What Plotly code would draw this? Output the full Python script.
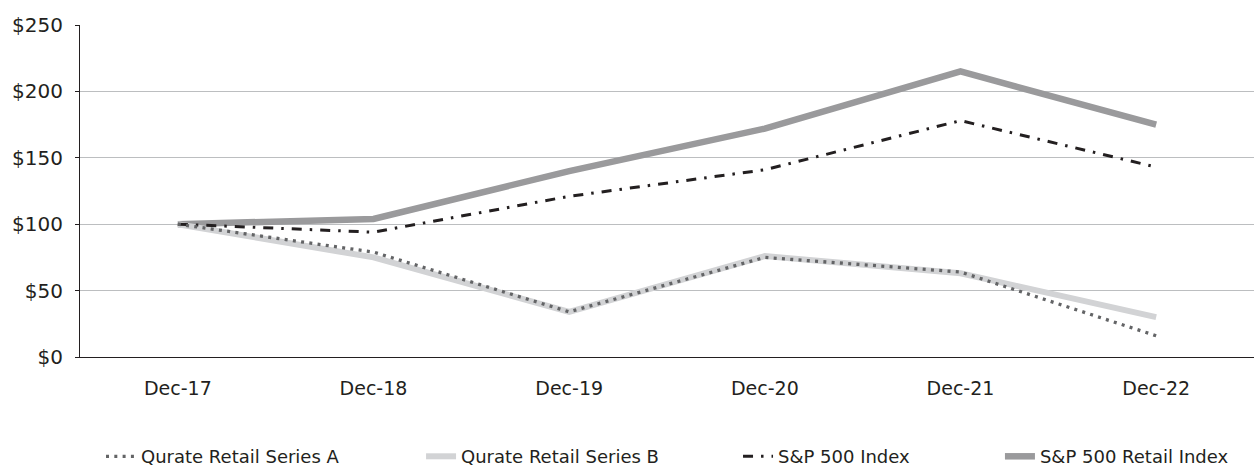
import plotly.graph_objects as go

categories = ["Dec-17", "Dec-18", "Dec-19", "Dec-20", "Dec-21", "Dec-22"]
series_a = [100, 79, 34, 75, 64, 16]
series_b = [100, 75, 34, 76, 63, 30]
sp500 = [100, 94, 121, 141, 178, 143]
sp500_retail = [100, 104, 140, 172, 215, 175]
y_ticks = [0, 50, 100, 150, 200, 250]
y_tick_labels = ["$0", "$50", "$100", "$150", "$200", "$250"]

FONT = "DejaVu Sans"
TXT = "#231f20"

fig = go.Figure()
fig.add_trace(go.Scatter(x=categories, y=sp500_retail, mode="lines", name="S&P 500 Retail Index",
                         line=dict(color="#9a9a9c", width=6.5), legend="legend4"))
fig.add_trace(go.Scatter(x=categories, y=series_b, mode="lines", name="Qurate Retail Series B",
                         line=dict(color="#d2d3d5", width=6), legend="legend2"))
fig.add_trace(go.Scatter(x=categories, y=sp500, mode="lines", name="S&P 500 Index",
                         line=dict(color=TXT, width=3, dash="10px,8px,2.5px,8px"), legend="legend3"))
fig.add_trace(go.Scatter(x=categories, y=series_a, mode="lines", name="Qurate Retail Series A",
                         line=dict(color="#636466", width=3.3, dash="3px,5.3px"), legend="legend"))

def leg(x):
    return dict(orientation="h", x=x, xanchor="left", y=-0.3, yanchor="middle",
                font=dict(family=FONT, size=18, color=TXT), bgcolor="rgba(0,0,0,0)")

fig.update_layout(
    width=1254, height=466,
    margin=dict(l=80, r=0, t=25, b=109, autoexpand=False),
    paper_bgcolor="white", plot_bgcolor="white",
    font=dict(family=FONT, size=19, color=TXT),
    showlegend=True,
    legend=leg(0.0179),
    legend2=leg(0.2905),
    legend3=leg(0.5605),
    legend4=leg(0.7836),
    xaxis=dict(range=[-0.5, 5.5], showgrid=False, showline=True, linecolor=TXT,
               linewidth=1, ticks="", tickfont=dict(size=19), ticklabelstandoff=14,
               fixedrange=True),
    yaxis=dict(range=[0, 250], tickvals=y_ticks, ticktext=y_tick_labels,
               showgrid=True, gridcolor="#bcbec0", gridwidth=1,
               showline=True, linecolor=TXT, linewidth=1,
               ticks="outside", ticklen=4, tickcolor=TXT, ticklabelstandoff=8,
               tickfont=dict(size=20), zeroline=False),
)

fig.write_html("out.html")
